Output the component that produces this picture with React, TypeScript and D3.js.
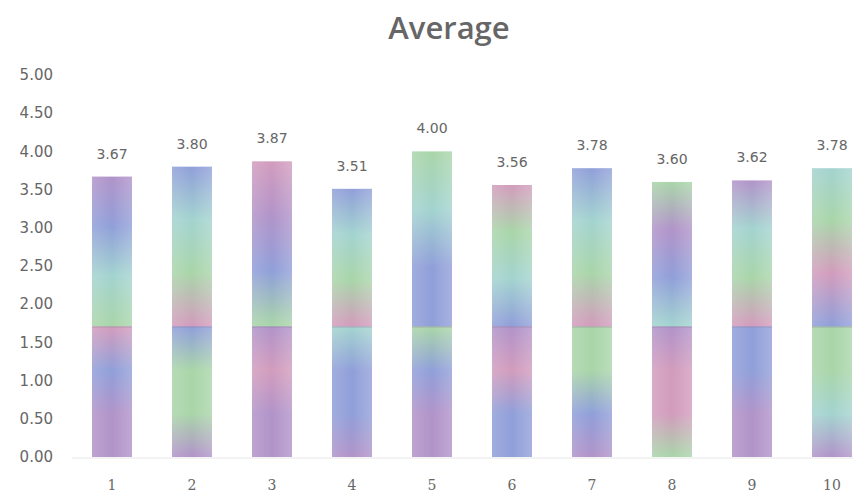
import React from "react";
import * as d3 from "d3";

const categories = ["1", "2", "3", "4", "5", "6", "7", "8", "9", "10"];
const values = [3.67, 3.8, 3.87, 3.51, 4.0, 3.56, 3.78, 3.6, 3.62, 3.78];
const yTicks = [0, 0.5, 1, 1.5, 2, 2.5, 3, 3.5, 4, 4.5, 5];
const title = "Average";

const P = "#b193c9", B = "#909fd9", T = "#a3d3cf", G = "#a9d5a9", K = "#d29cbd";
const barStops: string[][] = [
  [P, B, T, G, K, B, P, P],
  [B, T, G, K, B, G, G, P],
  [K, P, B, G, P, K, P, P],
  [B, T, G, K, T, B, B, P],
  [G, T, B, B, G, B, P, P],
  [K, G, T, B, P, K, B, B],
  [B, T, G, K, G, G, B, P],
  [G, P, B, T, P, K, K, G],
  [P, T, G, K, B, B, P, P],
  [T, G, K, B, G, G, T, P],
];

const W = 853;
const H = 504;

export default function App() {
  const x = d3.scaleBand<string>().domain(categories).range([72, 872]).paddingInner(0.5).paddingOuter(0.25);
  const y = d3.scaleLinear().domain([0, 5]).range([457, 75]);
  const textColor = "#666666";
  const split = 1.7;

  return (
    <svg width={W} height={H} style={{ position: "absolute", left: 0, top: 0, background: "#fff" }}>
      <defs>
        {categories.map((c, i) => {
          const stops = barStops[i];
          const top = y(values[i]);
          const bot = y(0);
          const splitY = y(split);
          const splitOff = (splitY - top) / (bot - top);
          const upper = stops.slice(0, 4);
          const lower = stops.slice(4);
          return (
            <linearGradient key={c} id={`g${i}`} x1="0" y1="0" x2="0" y2="1">
              {upper.map((col, j) => (
                <stop key={"u" + j} offset={(j / (upper.length - 1)) * (splitOff - 0.005)} stopColor={col} />
              ))}
              {lower.map((col, j) => (
                <stop key={"l" + j} offset={splitOff + (j / (lower.length - 1)) * (1 - splitOff)} stopColor={col} />
              ))}
            </linearGradient>
          );
        })}
        <linearGradient id="sheen" x1="0" y1="0" x2="1" y2="0">
          <stop offset="0" stopColor="#ffffff" stopOpacity={0.15} />
          <stop offset="0.5" stopColor="#ffffff" stopOpacity={0} />
          <stop offset="1" stopColor="#ffffff" stopOpacity={0.2} />
        </linearGradient>
      </defs>

      <text x={449} y={39} textAnchor="middle" fontFamily="'Open Sans', sans-serif" fontWeight={600} fontSize={31} fill={textColor}>
        {title}
      </text>

      {yTicks.map((t) => (
        <text key={t} x={53} y={y(t)} dy="0.35em" textAnchor="end" fontFamily="'DejaVu Sans', sans-serif" fontSize={15} fill={textColor}>
          {d3.format(".2f")(t)}
        </text>
      ))}

      <line x1={72} x2={W} y1={y(0) + 1} y2={y(0) + 1} stroke="#e6e6e6" strokeWidth={1} />

      {categories.map((c, i) => {
        const bx = x(c)!;
        const bw = x.bandwidth();
        const top = y(values[i]);
        return (
          <g key={c}>
            <rect x={bx} y={top} width={bw} height={y(0) - top} fill={`url(#g${i})`} />
            <rect x={bx} y={top} width={bw} height={y(0) - top} fill="url(#sheen)" />
            <line x1={bx} x2={bx + bw} y1={y(split)} y2={y(split)} stroke="#8a7f9a" strokeOpacity={0.3} strokeWidth={1.5} />
            <text x={bx + bw / 2} y={top - 18} textAnchor="middle" fontFamily="'DejaVu Sans', sans-serif" fontSize={14} fill={textColor}>
              {d3.format(".2f")(values[i])}
            </text>
            <text x={bx + bw / 2} y={490} textAnchor="middle" fontFamily="'DejaVu Serif', serif" fontSize={14} fill={textColor}>
              {c}
            </text>
          </g>
        );
      })}
    </svg>
  );
}
